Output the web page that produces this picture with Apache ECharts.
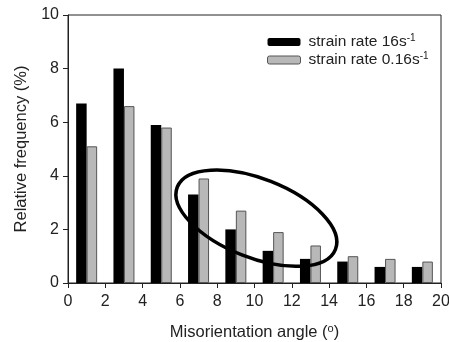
<!DOCTYPE html>
<html>
<head>
<meta charset="UTF-8">
<title>Misorientation angle distribution</title>
<script type="text/javascript" src="https://cdn.jsdelivr.net/npm/echarts@6/dist/echarts.min.js"></script>
<style>
  body{margin:0;background:#fff}
</style>
</head>
<body>
<div id="main" style="width:449px;height:342px"></div>
<script type="text/javascript">
	// bins of 2 degrees, centred on 1, 3, 5 ...
	var bins = ['0-2', '2-4', '4-6', '6-8', '8-10', '10-12', '12-14', '14-16', '16-18', '18-20'];
	var fast = [6.7, 8.0, 5.9, 3.3, 2.0, 1.2, 0.9, 0.8, 0.6, 0.6];   // strain rate 16 s-1
	var slow = [5.1, 6.6, 5.8, 3.9, 2.7, 1.9, 1.4, 1.0, 0.9, 0.8];   // strain rate 0.16 s-1
	var seriesNames = ['strain rate 16s', 'strain rate 0.16s'];

	var font = 'Liberation Sans, Arial, sans-serif';
	var myEcharts = echarts.init(document.getElementById('main'));

	option = {
	    animation: false,
	    textStyle: { fontFamily: font },
	    grid: {
	        left: 68, right: 8, top: 15, bottom: 59,
	        outerBoundsMode: 'none',
	        containLabel: false,
	        show: true, borderColor: '#222', borderWidth: 1
	    },
	    legend: {
	        orient: 'vertical',
	        left: 262,
	        top: 28,
	        itemWidth: 33,
	        itemHeight: 8,
	        itemGap: 1,
	        data: [
	            { name: seriesNames[0], itemStyle: { color: '#000', borderColor: '#000' } },
	            { name: seriesNames[1], itemStyle: { color: '#b8b8b8', borderColor: '#555', borderWidth: 1 } }
	        ],
	        formatter: function (name) {
	            return '{t|' + name + '}{s|-1}';
	        },
	        textStyle: {
	            padding: [0, 0, 0, 3],
	            rich: {
	                t: { fontSize: 15.5, lineHeight: 18, color: '#222', fontFamily: font },
	                s: { fontSize: 10, color: '#222', fontFamily: font, padding: [0, 0, 8, 0] }
	            }
	        }
	    },
	    xAxis: [{
	        type: 'category',
	        data: bins,
	        show: false
	    }, {
	        type: 'value',
	        position: 'bottom',
	        min: 0, max: 20, interval: 2,
	        splitLine: { show: false },
	        axisLine: { lineStyle: { color: '#222' } },
	        axisTick: { show: true, length: 5, lineStyle: { color: '#222' } },
	        axisLabel: { fontSize: 16, color: '#222', margin: 11 },
	        name: 'Misorientation angle ({s|o})',
	        nameLocation: 'middle',
	        nameGap: 40,
	        nameTextStyle: {
	            fontSize: 16.5, color: '#222',
	            rich: { s: { fontSize: 11, color: '#222', padding: [0, 0, 8, 0] } }
	        }
	    }],
	    yAxis: {
	        type: 'value',
	        min: 0, max: 10, interval: 2,
	        splitLine: { show: false },
	        axisLine: { show: true, lineStyle: { color: '#222' } },
	        axisTick: { show: true, length: 5, lineStyle: { color: '#222' } },
	        axisLabel: { fontSize: 16, color: '#222', margin: 9 },
	        name: 'Relative frequency (%)',
	        nameLocation: 'middle',
	        nameGap: 33,
	        nameTextStyle: { fontSize: 16.5, color: '#222' }
	    },
	    series: [{
	        name: seriesNames[0],
	        type: 'bar',
	        xAxisIndex: 0,
	        data: fast,
	        barWidth: 10.5,
	        barGap: '0%',
	        itemStyle: { color: '#000' }
	    }, {
	        name: seriesNames[1],
	        type: 'bar',
	        xAxisIndex: 0,
	        data: slow,
	        barWidth: 10.5,
	        barGap: '0%',
	        itemStyle: { color: '#b8b8b8', borderColor: '#555', borderWidth: 1 }
	    }]
	};
	myEcharts.setOption(option);

	// the hand-drawn ellipse round the 6-14 degree bins
	var c = myEcharts.convertToPixel({ xAxisIndex: 1, yAxisIndex: 0 }, [10.1, 2.42]);
	myEcharts.setOption({
	    graphic: [{
	        type: 'ellipse',
	        x: c[0], y: c[1],
	        rotation: -21.5 * Math.PI / 180,
	        shape: { cx: 0, cy: 0, rx: 85, ry: 39.5 },
	        style: { fill: 'none', stroke: '#000', lineWidth: 3.5 },
	        z: 100
	    }]
	});
</script>
</body>
</html>
